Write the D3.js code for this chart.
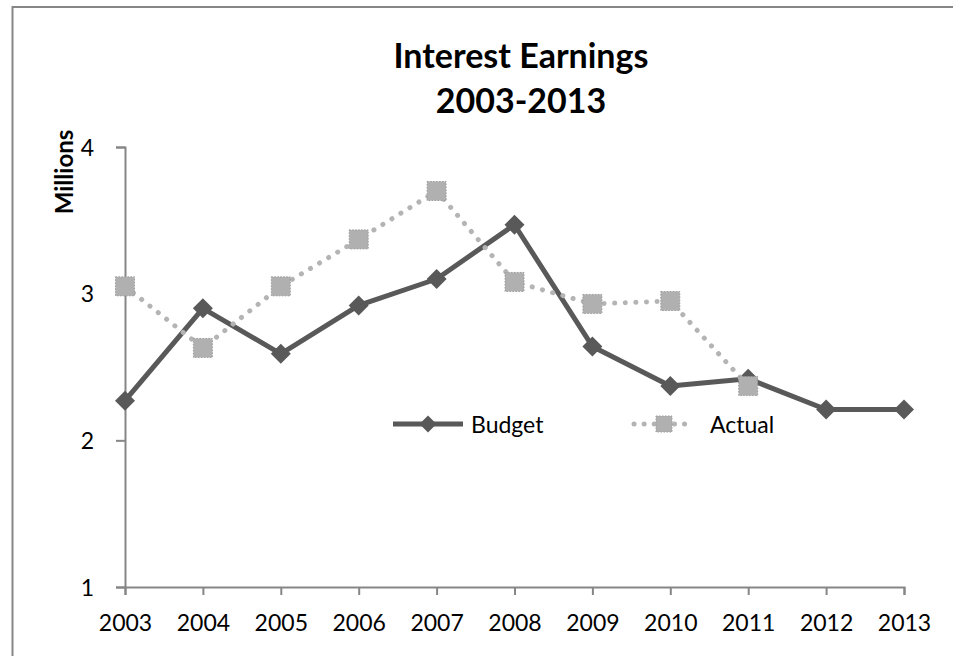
<!DOCTYPE html>
<html>
<head>
<meta charset="utf-8">
<script src="https://cdn.jsdelivr.net/npm/d3@7"></script>
<style>
  html, body { margin: 0; padding: 0; background: #fff; }
  svg { display: block; font-family: Lato, "Open Sans", sans-serif; }
</style>
</head>
<body>
<svg id="chart" width="953" height="656"></svg>
<script>
// Interest earnings, budget vs actual (millions)
const years = ["2003", "2004", "2005", "2006", "2007", "2008", "2009", "2010", "2011", "2012", "2013"];
const budget = [2.27, 2.90, 2.59, 2.92, 3.10, 3.47, 2.64, 2.37, 2.42, 2.21, 2.21];
const actual = [3.05, 2.63, 3.05, 3.37, 3.70, 3.08, 2.93, 2.95, 2.37];
const yTicks = [1, 2, 3, 4];
const titleLines = ["Interest Earnings", "2003-2013"];
const yTitle = "Millions";
const seriesNames = ["Budget", "Actual"];

const svg = d3.select("#chart");
const W = 953, H = 656;
const plot = { left: 125, right: 904, top: 147, bottom: 587 };

const budgetColor = "#595959";
const actualColor = "#b4b4b4";
const axisColor = "#868686";

// chart frame
svg.append("rect")
  .attr("x", 12.5).attr("y", 7)
  .attr("width", W + 20).attr("height", H + 20)
  .attr("fill", "#fff")
  .attr("stroke", axisColor).attr("stroke-width", 2);

const x = d3.scalePoint().domain(years).range([plot.left, plot.right]);
const y = d3.scaleLinear().domain([1, 4]).range([plot.bottom, plot.top]);

// title
svg.append("g").selectAll("text")
  .data(titleLines)
  .join("text")
  .attr("x", 521)
  .attr("y", (d, i) => 68 + i * 45)
  .attr("text-anchor", "middle")
  .attr("font-size", 34)
  .attr("font-weight", "bold")
  .attr("fill", "#000")
  .text(d => d);

// y axis title
svg.append("text")
  .attr("transform", "translate(73,172) rotate(-90)")
  .attr("text-anchor", "middle")
  .attr("font-size", 24)
  .attr("font-weight", "bold")
  .attr("fill", "#000")
  .text(yTitle);

// axes
const yAxis = svg.append("g")
  .attr("transform", `translate(${plot.left},0)`)
  .call(d3.axisLeft(y).tickValues(yTicks).tickFormat(d3.format("d")).tickSize(9).tickSizeOuter(9).tickPadding(22));
const xAxis = svg.append("g")
  .attr("transform", `translate(0,${plot.bottom})`)
  .call(d3.axisBottom(x).tickSize(8).tickSizeOuter(8).tickPadding(20));

[yAxis, xAxis].forEach(g => {
  g.selectAll("path, line").attr("stroke", axisColor).attr("stroke-width", 2);
  g.selectAll("text").attr("font-size", 23).attr("fill", "#000")
    .attr("font-family", "Lato, 'Open Sans', sans-serif");
});
yAxis.selectAll("text").attr("dy", "0.36em");

// marker shapes
const diamond = (cx, cy, r) => `M${cx},${cy - r}L${cx + r},${cy}L${cx},${cy + r}L${cx - r},${cy}Z`;

function drawBudgetMarker(g, cx, cy, r) {
  g.append("path").attr("d", diamond(cx, cy, r)).attr("fill", budgetColor);
}
function drawActualMarker(g, cx, cy, s) {
  g.append("rect")
    .attr("x", cx - s / 2).attr("y", cy - s / 2)
    .attr("width", s).attr("height", s)
    .attr("fill", "#b0b0b0")
    .attr("stroke", "#9c9c9c").attr("stroke-width", 1)
    .attr("stroke-dasharray", "1.5 1.5");
}

const line = d3.line().x(d => x(d.year)).y(d => y(d.value));
const budgetData = budget.map((v, i) => ({ year: years[i], value: v }));
const actualData = actual.map((v, i) => ({ year: years[i], value: v }));

// Budget series
const gB = svg.append("g");
gB.append("path").datum(budgetData)
  .attr("d", line)
  .attr("fill", "none")
  .attr("stroke", budgetColor)
  .attr("stroke-width", 5)
  .attr("stroke-linejoin", "round");
budgetData.forEach(d => drawBudgetMarker(gB, x(d.year), y(d.value), 10));

// Actual series
const gA = svg.append("g");
gA.append("path").datum(actualData)
  .attr("d", line)
  .attr("fill", "none")
  .attr("stroke", actualColor)
  .attr("stroke-width", 5)
  .attr("stroke-linecap", "round")
  .attr("stroke-dasharray", "0.1 10.5");
actualData.forEach(d => drawActualMarker(gA, x(d.year), y(d.value), 19));

// legend
const legY = 424;
const leg = svg.append("g");
leg.append("line")
  .attr("x1", 393).attr("x2", 463).attr("y1", legY).attr("y2", legY)
  .attr("stroke", budgetColor).attr("stroke-width", 5);
drawBudgetMarker(leg, 428, legY, 8.5);
leg.append("line")
  .attr("x1", 634).attr("x2", 693).attr("y1", legY).attr("y2", legY)
  .attr("stroke", actualColor).attr("stroke-width", 5)
  .attr("stroke-linecap", "round").attr("stroke-dasharray", "0.1 10");
drawActualMarker(leg, 664, legY, 16);
leg.selectAll("text.lbl")
  .data(seriesNames)
  .join("text")
  .attr("class", "lbl")
  .attr("x", (d, i) => i === 0 ? 471 : 710)
  .attr("y", 433)
  .attr("font-size", 23)
  .attr("fill", "#000")
  .text(d => d);
</script>
</body>
</html>
